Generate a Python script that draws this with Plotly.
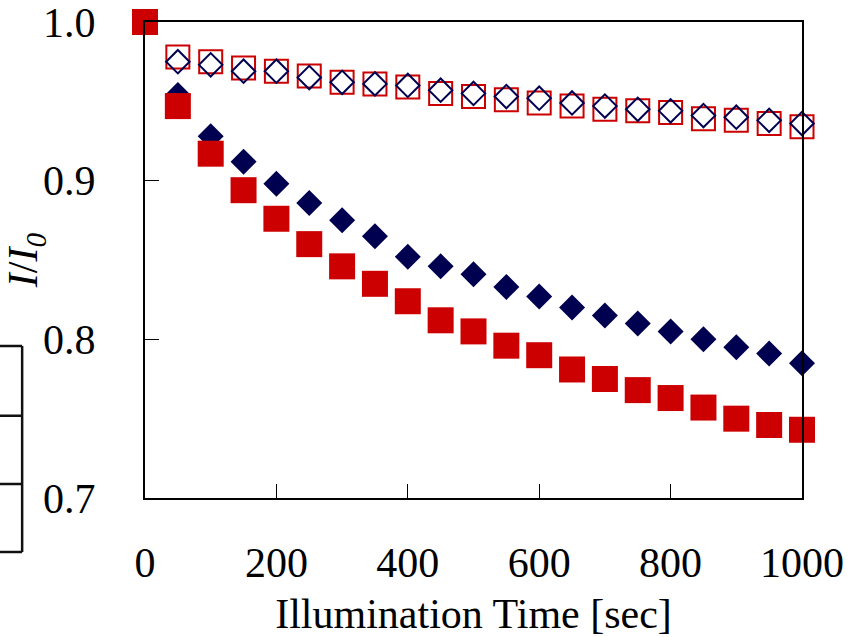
import plotly.graph_objects as go

time_sec = [0, 50, 100, 150, 200, 250, 300, 350, 400, 450, 500,
            550, 600, 650, 700, 750, 800, 850, 900, 950, 1000]

red_filled = [1.000, 0.947, 0.917, 0.894, 0.876, 0.860, 0.846, 0.835, 0.824, 0.812, 0.805,
              0.796, 0.790, 0.781, 0.775, 0.768, 0.763, 0.757, 0.750, 0.746, 0.743]
navy_filled = [1.000, 0.954, 0.928, 0.912, 0.898, 0.886, 0.875, 0.865, 0.852, 0.846, 0.841,
               0.833, 0.827, 0.820, 0.815, 0.810, 0.805, 0.800, 0.795, 0.791, 0.785]
navy_open = [1.000, 0.975, 0.973, 0.969, 0.969, 0.965, 0.962, 0.961, 0.960, 0.957, 0.955,
             0.953, 0.952, 0.949, 0.947, 0.945, 0.944, 0.941, 0.940, 0.938, 0.936]
red_open = [1.000, 0.978, 0.975, 0.971, 0.969, 0.966, 0.962, 0.961, 0.959, 0.955, 0.953,
            0.951, 0.949, 0.947, 0.945, 0.944, 0.943, 0.939, 0.938, 0.936, 0.934]

x_ticks = [0, 200, 400, 600, 800, 1000]
y_ticks = [0.7, 0.8, 0.9, 1.0]
y_tick_text = ["0.7", "0.8", "0.9", "1.0"]

RED = "#CC0000"
NAVY = "#000050"
FONT = "Liberation Serif"

fig = go.Figure()
fig.add_trace(go.Scatter(x=time_sec, y=red_open, mode="markers", cliponaxis=False,
                         marker=dict(symbol="square-open", size=23, color=RED,
                                     line=dict(width=2, color=RED))))
fig.add_trace(go.Scatter(x=time_sec, y=navy_open, mode="markers", cliponaxis=False,
                         marker=dict(symbol="diamond-open", size=18, color=NAVY,
                                     line=dict(width=2, color=NAVY))))
fig.add_trace(go.Scatter(x=time_sec, y=navy_filled, mode="markers", cliponaxis=False,
                         marker=dict(symbol="diamond", size=20, color=NAVY,
                                     line=dict(width=0))))
fig.add_trace(go.Scatter(x=time_sec, y=red_filled, mode="markers", cliponaxis=False,
                         marker=dict(symbol="square", size=26, color=RED,
                                     line=dict(width=0))))

# partial box cut off at the left edge of the picture
box_lines = [0.3193, 0.1729, 0.0294, -0.1134]
for yv in box_lines:
    fig.add_shape(type="line", xref="paper", yref="paper", x0=-0.5, x1=-0.187,
                  y0=yv, y1=yv, line=dict(color="#111111", width=2.5))
fig.add_shape(type="line", xref="paper", yref="paper", x0=-0.187, x1=-0.187,
              y0=box_lines[0], y1=box_lines[-1], line=dict(color="#111111", width=2.5))

fig.update_layout(
    width=864, height=637,
    margin=dict(l=145, r=62, t=22, b=139, autoexpand=False),
    paper_bgcolor="white", plot_bgcolor="white",
    showlegend=False,
    font=dict(family=FONT, size=42, color="black"),
)
fig.update_xaxes(
    range=[0, 1000], tickvals=x_ticks, ticks="inside", ticklen=14, tickwidth=1,
    tickcolor="black", showline=True, linecolor="black", linewidth=2, mirror=True,
    showgrid=False, zeroline=False, ticklabelstandoff=27, automargin=False,
    ticklabeloverflow="allow",
    tickfont=dict(family=FONT, size=42),
    title=dict(text="Illumination Time [sec]", font=dict(family=FONT, size=42), standoff=14),
)
fig.update_yaxes(
    range=[0.7, 1.0], tickvals=y_ticks, ticktext=y_tick_text, ticks="inside", ticklen=14,
    tickwidth=1, tickcolor="black", showline=True, linecolor="black", linewidth=2,
    mirror=True, showgrid=False, zeroline=False, ticklabelstandoff=39, automargin=False,
    ticklabeloverflow="allow",
    tickfont=dict(family=FONT, size=42),
    title=dict(text="<i>I</i>/<i>I</i><sub><i>0</i></sub>", font=dict(family=FONT, size=42),
               standoff=2),
)

fig.write_html("out.html", config={"displayModeBar": False},
               post_script="document.body.style.margin='0';document.body.style.padding='0';")
